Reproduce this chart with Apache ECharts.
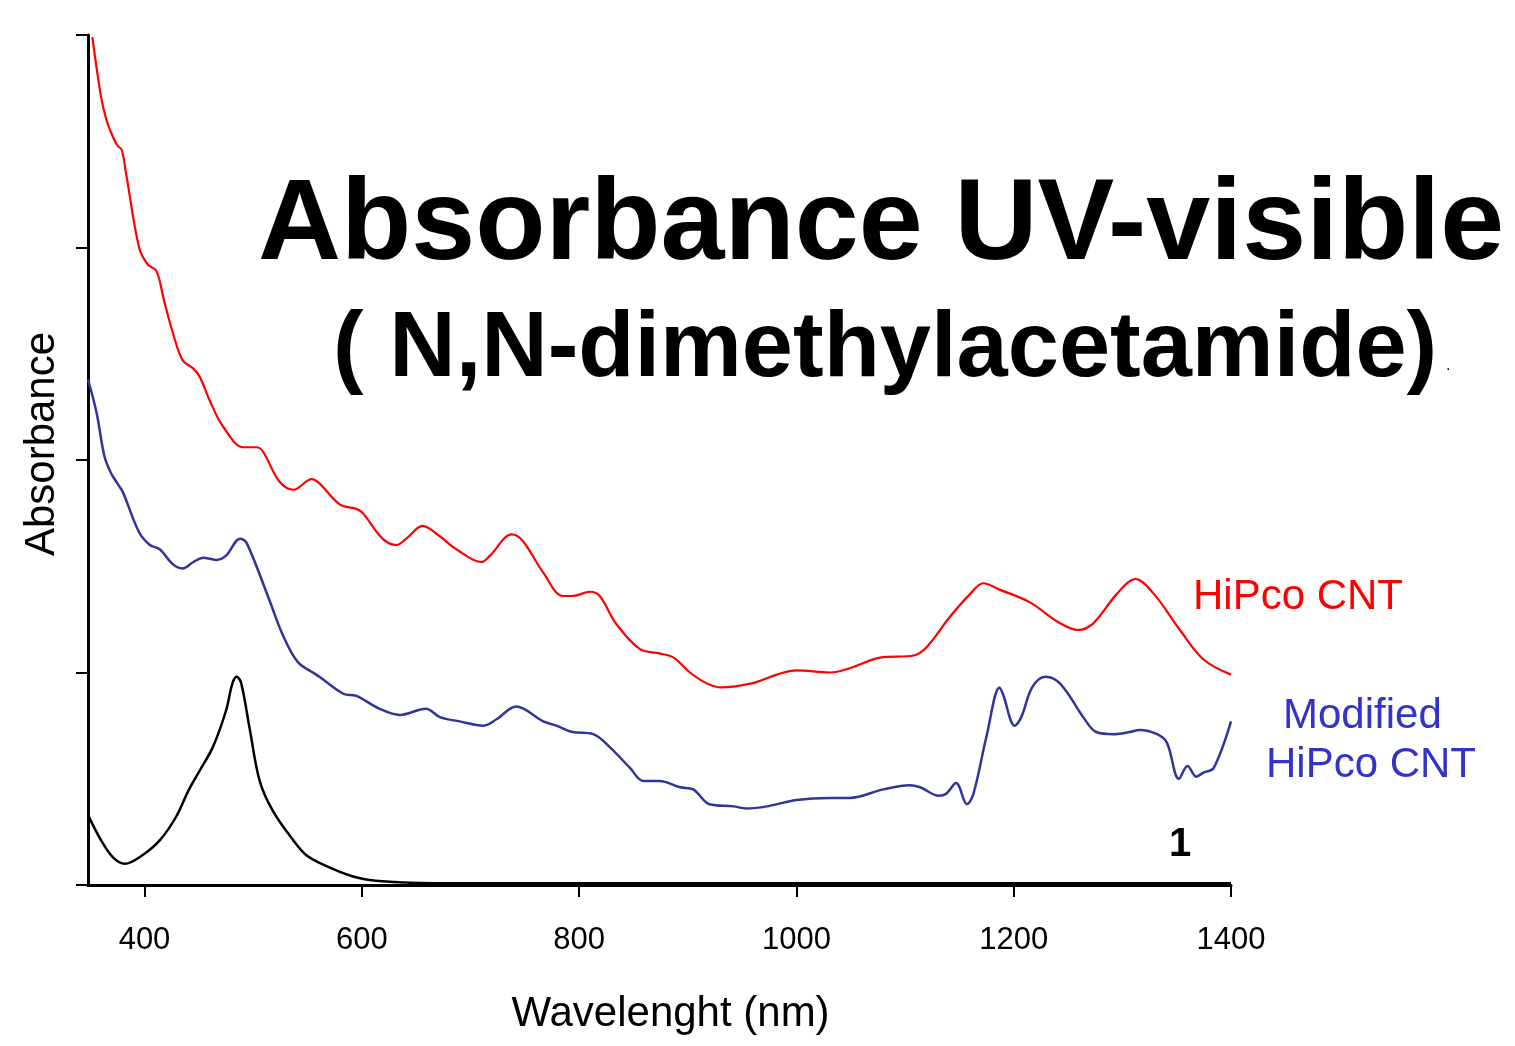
<!DOCTYPE html>
<html>
<head>
<meta charset="utf-8">
<title>Absorbance UV-visible</title>
<script src="https://cdn.jsdelivr.net/npm/echarts@6/dist/echarts.min.js"></script>
<style>
  html, body { margin: 0; padding: 0; background: #fff; }
  #chart { width: 1515px; height: 1046px; }
</style>
</head>
<body>
<div id="chart"></div>
<script>
// wavelength (nm) / absorbance
const redWl = [352, 360, 365, 371, 375, 379, 383, 395, 403, 411, 418, 426, 435, 445, 451, 460, 472, 491, 503, 509,
  524, 537, 554, 561, 580, 595, 601, 619, 632, 641, 656, 672, 687, 710, 718, 738, 748, 767, 785, 794,
  810, 819, 834, 856, 874, 887, 902, 917, 930, 960, 982, 1000, 1031, 1049, 1077, 1108, 1120, 1141, 1160, 1172,
  1187, 1215, 1240, 1259, 1273, 1295, 1312, 1329, 1353, 1375, 1400]
const redAbs = [3.99, 3.71, 3.60, 3.52, 3.48, 3.46, 3.35, 3.00, 2.92, 2.89, 2.75, 2.60, 2.47, 2.43, 2.39, 2.28, 2.16, 2.06, 2.06, 2.04,
  1.90, 1.86, 1.91, 1.89, 1.79, 1.77, 1.75, 1.63, 1.60, 1.63, 1.69, 1.64, 1.58, 1.52, 1.55, 1.65, 1.62, 1.47, 1.36, 1.36,
  1.38, 1.36, 1.23, 1.11, 1.09, 1.07, 1.00, 0.95, 0.93, 0.95, 0.99, 1.01, 1.00, 1.02, 1.07, 1.08, 1.12, 1.26, 1.37, 1.42,
  1.39, 1.33, 1.24, 1.20, 1.23, 1.37, 1.44, 1.37, 1.20, 1.06, 0.99]

const blueWl = [348, 356, 363, 369, 375, 380, 395, 405, 414, 426, 435, 445, 454, 466, 475, 488, 494, 515, 527, 541,
  558, 561, 583, 595, 616, 635, 659, 672, 690, 712, 724, 742, 767, 779, 794, 813, 828, 847, 859, 874,
  893, 905, 920, 942, 954, 973, 1000, 1031, 1049, 1080, 1104, 1114, 1131, 1138, 1147, 1157, 1163, 1175, 1187, 1190,
  1201, 1207, 1217, 1229, 1240, 1250, 1264, 1276, 1292, 1307, 1316, 1332, 1341, 1352, 1360, 1368, 1375, 1384, 1400]
const blueAbs = [2.38, 2.22, 2.02, 1.94, 1.89, 1.85, 1.66, 1.60, 1.58, 1.51, 1.49, 1.52, 1.54, 1.53, 1.55, 1.63, 1.61, 1.34, 1.18, 1.05,
  0.99, 0.98, 0.90, 0.89, 0.83, 0.80, 0.83, 0.79, 0.77, 0.75, 0.78, 0.84, 0.77, 0.75, 0.72, 0.71, 0.65, 0.55, 0.49, 0.49,
  0.46, 0.45, 0.38, 0.37, 0.36, 0.37, 0.40, 0.41, 0.41, 0.45, 0.47, 0.46, 0.42, 0.43, 0.48, 0.38, 0.43, 0.70, 0.93, 0.90,
  0.75, 0.79, 0.93, 0.98, 0.96, 0.90, 0.79, 0.72, 0.71, 0.72, 0.73, 0.71, 0.67, 0.50, 0.56, 0.51, 0.53, 0.55, 0.77]

const blackWl = [348, 359, 371, 382, 398, 414, 429, 441, 451, 463, 475, 481, 485, 489, 497, 506, 518, 537, 549, 567,
  592, 613, 644, 690, 800, 1000, 1200, 1400]
const blackAbs = [0.33, 0.22, 0.13, 0.10, 0.14, 0.21, 0.32, 0.45, 0.54, 0.65, 0.82, 0.95, 0.98, 0.95, 0.73, 0.49, 0.35, 0.21, 0.14, 0.09,
  0.04, 0.02, 0.011, 0.008, 0.008, 0.008, 0.008, 0.008]

const xTicks = [400, 600, 800, 1000, 1200, 1400]

const FONT = '"Liberation Sans", Arial, sans-serif'

const pairs = (xs, ys) => xs.map((x, i) => [x, ys[i]])

const chart = echarts.init(document.getElementById('chart'))

const lineSeries = (name, xs, ys, color, width) => ({
  name,
  type: 'line',
  data: pairs(xs, ys),
  showSymbol: false,
  smooth: 0.35,
  lineStyle: { color, width },
  silent: true
})

const option = {
  backgroundColor: '#fff',
  animation: false,
  grid: { left: 88, right: 284, top: 35, bottom: 161 },
  xAxis: {
    type: 'value',
    min: 348,
    max: 1400,
    name: 'Wavelenght (nm)',
    nameLocation: 'middle',
    nameGap: 108,
    nameTextStyle: { fontFamily: FONT, fontSize: 42, color: '#000', padding: [0, 0, 0, 22] },
    axisLine: { lineStyle: { color: '#000', width: 3 } },
    axisTick: { customValues: xTicks, length: 12, lineStyle: { color: '#000', width: 2 } },
    axisLabel: {
      customValues: xTicks,
      formatter: v => String(v),
      margin: 40,
      fontFamily: FONT,
      fontSize: 31,
      color: '#000'
    },
    splitLine: { show: false }
  },
  yAxis: {
    type: 'value',
    min: 0,
    max: 4,
    interval: 1,
    axisLine: { show: true, lineStyle: { color: '#000', width: 3 } },
    axisTick: { show: true, length: 12, lineStyle: { color: '#000', width: 2 } },
    axisLabel: { show: false },
    splitLine: { show: false }
  },
  series: [
    lineSeries('HiPco CNT', redWl, redAbs, '#ff0000', 2.2),
    lineSeries('Modified HiPco CNT', blueWl, blueAbs, '#33339c', 2.5),
    lineSeries('1', blackWl, blackAbs, '#000', 2.5)
  ],
  graphic: [
    { type: 'text', x: 42, y: 444, rotation: Math.PI / 2, style: { text: 'Absorbance', font: '42px ' + FONT, fill: '#000', align: 'center', verticalAlign: 'middle' } },
    { type: 'text', x: 258, y: 227, style: { text: 'Absorbance UV-visible', font: 'bold 115px ' + FONT, fill: '#000', align: 'left', verticalAlign: 'middle' } },
    { type: 'text', x: 333, y: 351, style: { text: '( N,N-dimethylacetamide)', font: 'bold 92px ' + FONT, fill: '#000', align: 'left', verticalAlign: 'middle' } },
    { type: 'text', x: 1446, y: 366, style: { text: '.', font: '16px ' + FONT, fill: '#000', align: 'left', verticalAlign: 'middle' } },
    { type: 'text', x: 1193, y: 597, style: { text: 'HiPco CNT', font: '42px ' + FONT, fill: '#ff0000', align: 'left', verticalAlign: 'middle' } },
    { type: 'text', x: 1283, y: 716, style: { text: 'Modified', font: '42px ' + FONT, fill: '#3333cc', align: 'left', verticalAlign: 'middle' } },
    { type: 'text', x: 1266, y: 765, style: { text: 'HiPco CNT', font: '42px ' + FONT, fill: '#3333cc', align: 'left', verticalAlign: 'middle' } },
    { type: 'text', x: 1180, y: 845, style: { text: '1', font: 'bold 40px ' + FONT, fill: '#000', align: 'center', verticalAlign: 'middle' } }
  ]
}

chart.setOption(option)
</script>
</body>
</html>
